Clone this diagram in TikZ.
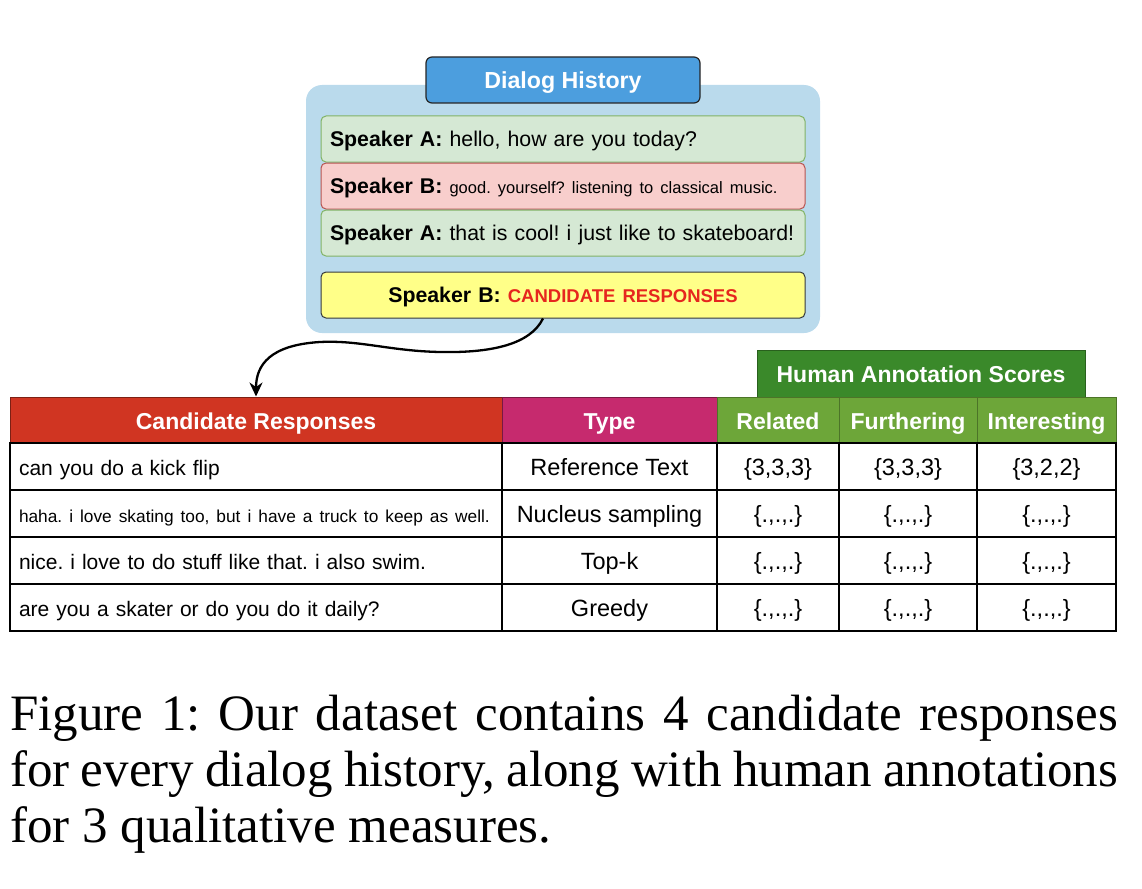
\documentclass[tikz,border=0pt]{standalone}
\usepackage{fontspec}
\setmainfont{Liberation Sans}
\newfontfamily\captionserif{Liberation Serif}
\usepackage{xcolor}
\usepackage{tikz}
\usetikzlibrary{positioning, calc, arrows.meta}
\frenchspacing

\definecolor{histbg}{RGB}{186,218,236}
\definecolor{titleblue}{RGB}{76,158,222}
\definecolor{turngreen}{RGB}{213,232,212}
\definecolor{turngreenline}{RGB}{130,179,102}
\definecolor{turnred}{RGB}{248,206,204}
\definecolor{turnredline}{RGB}{184,84,80}
\definecolor{candyellow}{RGB}{255,255,136}
\definecolor{candline}{RGB}{54,57,61}
\definecolor{candtext}{RGB}{230,38,30}
\definecolor{headred}{RGB}{208,53,34}
\definecolor{headpink}{RGB}{198,42,110}
\definecolor{headgreen}{RGB}{109,166,57}
\definecolor{humangreen}{RGB}{58,137,42}

\begin{document}
\begin{tikzpicture}[x=1pt, y=-1pt,
  turn/.style={draw, rounded corners=5pt, line width=1pt, minimum width=484pt,
    minimum height=46pt, inner xsep=9pt, inner ysep=0pt, text width=466pt, align=left,
    text height=17pt, text depth=1.6pt, font=\fontsize{21.3}{24}\selectfont},
  head/.style={line width=1pt, minimum height=46pt, inner sep=0pt, text=white,
    text height=18.6pt, text depth=0pt, font=\bfseries\fontsize{23}{26}\selectfont},
  cell/.style={draw, line width=1.5pt, minimum height=47pt, inner sep=0pt,
    text height=18pt, text depth=0pt, font=\fontsize{23.5}{26}\selectfont},
  respcell/.style={cell, minimum width=492pt, inner xsep=9pt, text width=474pt, align=left,
    text height=18pt, text depth=1pt, font=\fontsize{21}{24}\selectfont},
  typecell/.style={cell, minimum width=215pt},
  capline/.style={anchor=base west, inner sep=0pt, font=\captionserif\fontsize{51}{56}\selectfont}]
  \useasboundingbox (0,0) rectangle (1142,888);

  % Dialog history panel
  \node[fill=histbg, rounded corners=16pt, minimum width=514pt, minimum height=248pt] (hist) at (563,209) {};
  \node[draw=black!85, fill=titleblue, rounded corners=6pt, line width=1.2pt, minimum width=274pt,
    minimum height=46pt, text height=18pt, text depth=1pt, text=white,
    font=\bfseries\fontsize{23.2}{26}\selectfont] (title) at (563,80) {Dialog History};

  % Dialog turns
  \node[turn, fill=turngreen, draw=turngreenline] (turnA1) at (563,139)
    {\textbf{Speaker A:} hello, how are you today?};
  \node[turn, fill=turnred, draw=turnredline] (turnB) at (563,186)
    {\textbf{Speaker B:} {\fontsize{16.5}{20}\selectfont good. yourself? listening to classical music.}};
  \node[turn, fill=turngreen, draw=turngreenline] (turnA2) at (563,233)
    {\textbf{Speaker A:} that is cool! i just like to skateboard!};
  \node[turn, fill=candyellow, draw=candline, align=center] (cand) at (563,295)
    {\textbf{Speaker B:} {\color{candtext}\bfseries\fontsize{18.5}{20}\selectfont CANDIDATE RESPONSES}};

  % Header row
  \node[head, fill=humangreen, draw=humangreen!70!black, minimum width=328pt, minimum height=47pt] (human) at (921,373.5) {Human Annotation Scores};
  \node[head, fill=headred, draw=headred!60!black, minimum width=492pt] (resp) at (256,420) {Candidate Responses};
  \node[head, fill=headpink, draw=headpink!60!black, minimum width=215pt] (type) at (609.5,420) {Type};
  \node[head, fill=headgreen, draw=headgreen!70!black, minimum width=122pt] (rel) at (778,420) {Related};
  \node[head, fill=headgreen, draw=headgreen!70!black, minimum width=138pt] (fur) at (908,420) {Furthering};
  \node[head, fill=headgreen, draw=headgreen!70!black, minimum width=139pt] (int) at (1046.5,420) {Interesting};

  % Body rows
  \node[respcell] (resp1) at (256,466.5) {can you do a kick flip};
  \node[respcell] (resp2) at (256,513.5) {\fontsize{17.3}{20}\selectfont\mbox{haha. i love skating too, but i have a truck to keep as well.}};
  \node[respcell] (resp3) at (256,560.5) {nice. i love to do stuff like that. i also swim.};
  \node[respcell] (resp4) at (256,607.5) {are you a skater or do you do it daily?};

  \node[typecell] (type1) at (609.5,466.5) {Reference Text};
  \node[typecell] (type2) at (609.5,513.5) {Nucleus sampling};
  \node[typecell] (type3) at (609.5,560.5) {Top-k};
  \node[typecell] (type4) at (609.5,607.5) {Greedy};

  \node[cell, minimum width=122pt] (rel1) at (778,466.5) {\{3,3,3\}};
  \node[cell, minimum width=138pt] (fur1) at (908,466.5) {\{3,3,3\}};
  \node[cell, minimum width=139pt] (int1) at (1046.5,466.5) {\{3,2,2\}};
  \foreach \r/\y in {2/513.5, 3/560.5, 4/607.5} {
    \node[cell, minimum width=122pt] (rel\r) at (778,\y) {\{.,.,.\}};
    \node[cell, minimum width=138pt] (fur\r) at (908,\y) {\{.,.,.\}};
    \node[cell, minimum width=139pt] (int\r) at (1046.5,\y) {\{.,.,.\}};
  }

  % Curved arrow from the candidate slot to the table
  \draw[line width=2.3pt, -{Stealth[length=14pt,width=13pt]}]
    ([xshift=-20pt]cand.south) .. controls (530,345) and (490,353) .. (440,352)
    .. controls (390,351) and (360,340) .. (320,342)
    .. controls (270,345) and (256,365) .. (resp.north);

  % Caption
  \node[capline] (cap1) at (10,730) {\makebox[1108pt][s]{Figure 1: Our dataset contains 4 candidate responses}};
  \node[capline] (cap2) at (10,786) {\makebox[1108pt][s]{for every dialog history, along with human annotations}};
  \node[capline] (cap3) at (10,842) {for 3 qualitative measures.};
\end{tikzpicture}
\end{document}
